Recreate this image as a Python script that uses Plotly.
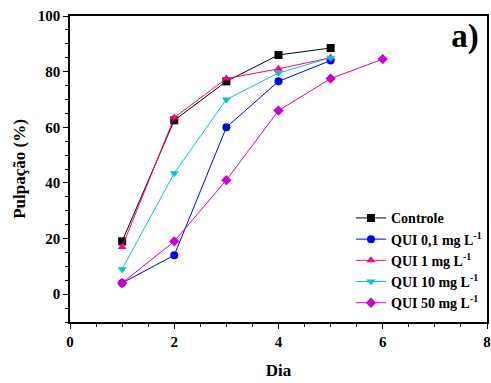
import plotly.graph_objects as go

dias = [1, 2, 3, 4, 5]
dias_50 = [1, 2, 3, 4, 5, 6]

controle = [19, 62.5, 76.5, 86, 88.5]
qui_01 = [4, 14, 60, 76.5, 84]
qui_1 = [17, 63.5, 77.5, 81, 85]
qui_10 = [9, 43.5, 70, 79.5, 85]
qui_50 = [4, 19, 41, 66, 77.5, 84.5]

FONT = "Liberation Serif"

series = [
    ("Controle", dias, controle, "black", "square"),
    ("QUI 0,1 mg L<sup>-1</sup>", dias, qui_01, "#0000ff", "circle"),
    ("QUI 1 mg L<sup>-1</sup>", dias, qui_1, "#ff0080", "triangle-up"),
    ("QUI 10 mg L<sup>-1</sup>", dias, qui_10, "#00c8c8", "triangle-down"),
    ("QUI 50 mg L<sup>-1</sup>", dias_50, qui_50, "#cc00cc", "diamond"),
]

fig = go.Figure()
for name, x, y, color, symbol in series:
    fig.add_trace(go.Scatter(
        x=x, y=y, name=name, mode="lines+markers",
        line=dict(color=color, width=1),
        marker=dict(color=color, symbol=symbol, size=8),
    ))

# panel label, placed in data coordinates
fig.add_trace(go.Scatter(
    x=[7.58], y=[91.7], mode="text", text=["a)"], textposition="middle center",
    textfont=dict(family=FONT, size=33, color="black", weight="bold"),
    showlegend=False, hoverinfo="skip", cliponaxis=False,
))

axis_common = dict(
    showgrid=False, zeroline=False, showline=True, linecolor="black",
    linewidth=1.5, mirror=True, ticks="outside", ticklen=5, tickwidth=1,
    tickcolor="black", automargin=False,
    minor=dict(ticks="outside", ticklen=3, tickcolor="black", tickwidth=1),
    tickfont=dict(family=FONT, size=15, color="black", weight="bold"),
)

fig.update_layout(
    width=491, height=383,
    margin=dict(l=70, r=4, t=16, b=61),
    paper_bgcolor="white", plot_bgcolor="white",
    font=dict(family=FONT, color="black"),
    xaxis=dict(range=[0, 8], dtick=2, **axis_common,
               title=dict(text="<b>Dia</b>", font=dict(size=17), standoff=15)),
    yaxis=dict(range=[-10, 100], dtick=20, **axis_common,
               title=dict(text="<b>Pulpação (%)</b>", font=dict(size=17), standoff=8)),
    legend=dict(x=1.0, y=0.012, xanchor="right", yanchor="bottom",
                bgcolor="rgba(0,0,0,0)", tracegroupgap=0,
                font=dict(family=FONT, size=14, color="black", weight="bold")),
    showlegend=True,
)

# page body has a default 8px margin; drop it so the figure fills the window
fig.write_html("out.html", config={"displayModeBar": False},
               post_script="document.body.style.margin = '0';")
